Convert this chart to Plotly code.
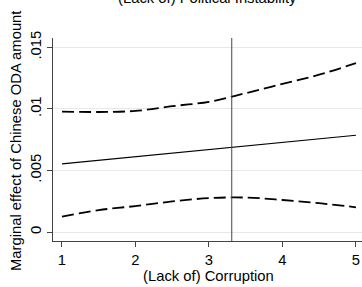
import plotly.graph_objects as go

x_vals = [1, 1.5, 2, 2.5, 3, 3.5, 4, 4.5, 5]
effect = [0.00553, 0.00582, 0.00611, 0.00640, 0.00670, 0.00699, 0.00728, 0.00757, 0.00786]
upper = [0.00978, 0.00975, 0.00984, 0.01022, 0.01058, 0.01128, 0.01203, 0.01278, 0.01372]
lower = [0.00125, 0.00178, 0.00211, 0.00248, 0.00275, 0.00280, 0.00260, 0.00234, 0.00201]
mean_x = 3.31
y_ticks = [0, 0.005, 0.01, 0.015]
y_ticktext = ["0", ".005", ".01", ".015"]
x_ticks = [1, 2, 3, 4, 5]

L, R, T, B = 53, 0, 38, 46
W, H = 362, 287
pw, ph = W - L - R, H - T - B
FS = 14.8

fig = go.Figure()
fig.add_trace(go.Scatter(x=x_vals, y=upper, mode="lines", line=dict(color="black", width=1.8, dash="12px,5px", shape="spline"), showlegend=False))
fig.add_trace(go.Scatter(x=x_vals, y=lower, mode="lines", line=dict(color="black", width=1.8, dash="12px,5px", shape="spline"), showlegend=False))
fig.add_trace(go.Scatter(x=x_vals, y=effect, mode="lines", line=dict(color="black", width=1.2), showlegend=False))
fig.add_vline(x=mean_x, line=dict(color="#444444", width=1))

fig.update_layout(
    width=W, height=H,
    margin=dict(l=L, r=R, t=T, b=B, autoexpand=False),
    paper_bgcolor="white", plot_bgcolor="white",
    font=dict(family="Liberation Sans, Arial", size=FS, color="black"),
    annotations=[
        dict(text="(Lack of) Political Instability", xref="paper", yref="paper",
             x=(207 - L) / pw, y=1 + (T - 8) / ph, xanchor="center", yanchor="bottom",
             showarrow=False, font=dict(size=FS)),
        dict(text="(Lack of) Corruption", xref="paper", yref="paper",
             x=(208 - L) / pw, y=-(276 - (T + ph)) / ph, xanchor="center", yanchor="middle",
             showarrow=False, font=dict(size=FS)),
        dict(text="Marginal effect of Chinese ODA amount", xref="paper", yref="paper",
             x=(16 - L) / pw, y=(T + ph - 141) / ph, xanchor="center", yanchor="middle",
             textangle=-90, showarrow=False, font=dict(size=FS)),
    ],
)
fig.update_xaxes(range=[0.878, 0.878 + pw / 73.5], tickvals=x_ticks, ticks="outside", ticklen=5, tickcolor="#444",
                 showline=True, linecolor="#444", linewidth=1, showgrid=False, zeroline=False,
                 automargin=False, tickfont=dict(size=FS))
fig.update_yaxes(range=[-0.00073, 0.01576], tickvals=y_ticks, ticktext=y_ticktext, tickangle=-90,
                 ticks="outside", ticklen=5, tickcolor="#444",
                 showline=True, linecolor="#444", linewidth=1, showgrid=True, gridcolor="#e8e8e8", gridwidth=1,
                 zeroline=False, automargin=False, tickfont=dict(size=FS))

fig.write_html("out.html", config={"displayModeBar": False},
               post_script="document.body.style.margin='0';document.body.style.overflow='hidden';")
